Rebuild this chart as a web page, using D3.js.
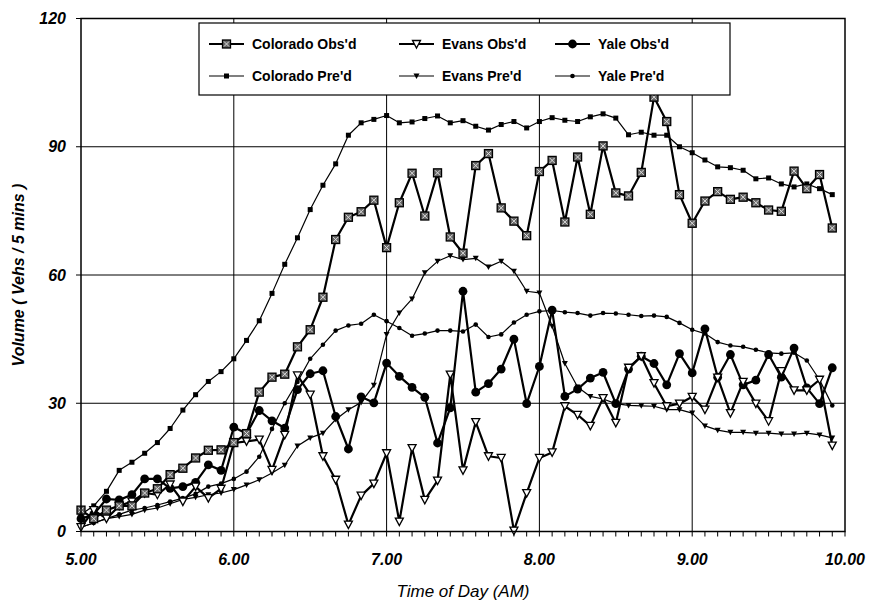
<!DOCTYPE html>
<html>
<head>
<meta charset="utf-8">
<script src="https://cdn.jsdelivr.net/npm/d3@7/dist/d3.min.js"></script>
<style>
  html, body { margin: 0; padding: 0; background: #fff; }
  svg { display: block; }
</style>
</head>
<body>
<svg id="chart" width="870" height="605"></svg>
<script>
// ---- data (5-minute intervals, 5:00 to 9:55) ----
const times = d3.range(60).map(i => 5 + i / 12);
const xTicks = [5, 6, 7, 8, 9, 10];
const xTickLabels = ["5.00", "6.00", "7.00", "8.00", "9.00", "10.00"];
const yTicks = [0, 30, 60, 90, 120];

const coloradoObs = [5, 3, 5, 6, 6, 9, 10, 13.3, 14.8, 17.2, 19, 19.1, 20.8, 22.9, 32.6, 36.1, 36.8, 43.2, 47.2, 54.8,
  68.3, 73.5, 74.8, 77.5, 66.4, 76.9, 83.8, 73.8, 83.9, 68.9, 65.1, 85.6, 88.4, 75.7, 72.6, 69.2, 84.2, 86.8, 72.4, 87.6,
  74.2, 90.2, 79.2, 78.5, 84, 101.6, 95.9, 78.8, 72.1, 77.3, 79.5, 77.7, 78.2, 76.9, 75.2, 74.9, 84.3, 80.2, 83.5, 71];
const coloradoPred = [4, 6, 9.4, 14.3, 16.2, 18.3, 20.8, 24.1, 28.4, 32, 35.1, 37.4, 40.4, 44.7, 49.3, 55.7, 62.5, 68.7, 75.3, 81,
  86, 92.7, 95.6, 96.4, 97.3, 95.6, 95.8, 96.6, 97.2, 95.6, 96.1, 94.8, 93.9, 95.2, 95.9, 94.4, 95.9, 96.8, 96.2, 95.9,
  97, 97.7, 96.7, 92.8, 93.4, 92.7, 92.7, 90, 88.6, 86.9, 85.3, 85.1, 84.5, 82.5, 82.7, 81.3, 80.6, 81.3, 80.2, 78.8];
const evansObs = [1, 5, 3, 6, 7, 9, 8.6, 11, 7, 10.5, 7.8, 10, 20.7, 21.1, 21.5, 14.4, 22.6, 36.5, 32, 17.6,
  12.1, 1.6, 8.4, 11.2, 18.3, 2.3, 19.5, 7.4, 11.9, 36.7, 14.3, 25.6, 17.6, 17.2, 0.2, 9, 17.2, 18.5, 29.3, 27.3,
  24.7, 31.2, 25.4, 38.3, 41, 34.7, 29.3, 29.9, 31.5, 28.5, 36, 27.7, 35, 29.9, 25.8, 37.5, 33, 33, 35.5, 20.1];
const evansPred = [1, 2, 3, 3.5, 4, 5, 5.5, 6.5, 7.5, 8, 8.6, 9, 9.8, 10.9, 12.1, 13.7, 15.5, 20, 21.9, 23,
  26.2, 28.5, 30.2, 34.2, 46.1, 51.1, 54.4, 60.5, 63.2, 64.5, 63.6, 63.9, 61.9, 63.2, 60.9, 56.2, 55.8, 48, 39.3, 33.8,
  31.6, 31, 29.9, 29.5, 29.4, 29.3, 28.5, 28.5, 27.7, 24.7, 23.7, 23.2, 23.2, 23, 23, 22.8, 22.8, 23, 22.6, 21.9];
const yaleObs = [3, 4, 7.6, 7.4, 8.6, 12.3, 12.3, 10.1, 10.5, 11.5, 15.6, 14.3, 24.4, 22.9, 28.3, 25.9, 24.2, 33.2, 36.9, 37.6,
  26.9, 19.3, 31.5, 30.1, 39.4, 36.3, 33.7, 31.4, 20.7, 28.9, 56.2, 32.6, 34.6, 38, 45, 29.9, 38.6, 51.8, 31.6, 33.3,
  35.9, 37.2, 29.9, 38, 41, 39.3, 34.3, 41.6, 37.1, 47.4, 36.1, 41.4, 34.3, 35.4, 41.4, 36.1, 42.9, 33.6, 29.9, 38.3];
const yalePred = [1, 2, 3, 4, 5, 5.5, 6.2, 7, 7.8, 8.8, 10.5, 11.2, 12.3, 14, 17.5, 24, 30, 35, 40.4, 43.7,
  47, 48.2, 48.6, 50.7, 49.2, 47.6, 45.8, 46.3, 47, 47, 46.8, 48.4, 45.5, 46.1, 48.9, 50.7, 51.5, 51.7, 51.3, 51.1,
  50.5, 51.1, 51, 50.7, 50.4, 50.5, 50.2, 48.8, 47.2, 46.3, 44.3, 43.5, 43.2, 42.5, 41.8, 41.6, 41.8, 40, 35.5, 29.5];

const seriesNames = ["Colorado Obs'd", "Evans Obs'd", "Yale Obs'd", "Colorado Pre'd", "Evans Pre'd", "Yale Pre'd"];

// ---- layout ----
const L = 81, R = 845, T = 18.5, B = 531.5;
const FONT = "'Liberation Sans', Arial, Helvetica, sans-serif";
const svg = d3.select("#chart");

const x = d3.scaleLinear().domain([5, 10]).range([L, R]);
const y = d3.scaleLinear().domain([0, 120]).range([B, T]);

// gridlines
svg.append("g").selectAll("line.h").data(yTicks.filter(v => v > 0 && v < 120)).join("line")
  .attr("x1", L).attr("x2", R).attr("y1", d => y(d)).attr("y2", d => y(d))
  .attr("stroke", "#000").attr("stroke-width", 1);
svg.append("g").selectAll("line.v").data(xTicks.filter(v => v > 5 && v < 10)).join("line")
  .attr("y1", T).attr("y2", B).attr("x1", d => x(d)).attr("x2", d => x(d))
  .attr("stroke", "#000").attr("stroke-width", 1);

// x axis minor ticks (every 5 minutes)
const minor = d3.range(61).map(i => 5 + i / 12);
svg.append("g").selectAll("line").data(minor).join("line")
  .attr("x1", d => x(d)).attr("x2", d => x(d)).attr("y1", B).attr("y2", B + 5)
  .attr("stroke", "#000").attr("stroke-width", 1);
// y axis small ticks
svg.append("g").selectAll("line").data(yTicks).join("line")
  .attr("x1", L - 5).attr("x2", L).attr("y1", d => y(d)).attr("y2", d => y(d))
  .attr("stroke", "#000").attr("stroke-width", 1);

// tick labels
svg.append("g").selectAll("text").data(yTicks).join("text")
  .attr("x", L - 15).attr("y", d => y(d)).attr("dy", "0.35em")
  .attr("text-anchor", "end")
  .style("font-family", FONT).style("font-size", "16px").style("font-weight", "bold").style("font-style", "italic")
  .text(d => d);
svg.append("g").selectAll("text").data(xTicks).join("text")
  .attr("x", d => x(d)).attr("y", 565)
  .attr("text-anchor", "middle")
  .style("font-family", FONT).style("font-size", "16px").style("font-weight", "bold").style("font-style", "italic")
  .text((d, i) => xTickLabels[i]);

// axis titles
svg.append("text").attr("x", (L + R) / 2).attr("y", 597).attr("text-anchor", "middle")
  .style("font-family", FONT).style("font-size", "17px").style("font-style", "italic")
  .text("Time of Day (AM)");
svg.append("text").attr("transform", `translate(24,${(T + B) / 2}) rotate(-90)`).attr("text-anchor", "middle")
  .style("font-family", FONT).style("font-size", "16px").style("font-weight", "bold").style("font-style", "italic")
  .text("Volume ( Vehs / 5 mins )");

// ---- marker painters ----
function markColoradoObs(g, s) {
  g.append("rect").attr("x", -s / 2).attr("y", -s / 2).attr("width", s).attr("height", s)
    .attr("fill", "#666").attr("stroke", "#000").attr("stroke-width", 1.3);
  g.append("path").attr("d", `M${-s / 2 + 1.5},${-s / 2 + 1.5}L${s / 2 - 1.5},${s / 2 - 1.5}M${s / 2 - 1.5},${-s / 2 + 1.5}L${-s / 2 + 1.5},${s / 2 - 1.5}`)
    .attr("stroke", "#ddd").attr("stroke-width", 1);
}
function markColoradoPred(g) {
  g.append("rect").attr("x", -2.5).attr("y", -2.5).attr("width", 5).attr("height", 5).attr("fill", "#000");
}
function markEvansObs(g) {
  g.append("path").attr("d", "M-4,-3.5L4,-3.5L0,4Z").attr("fill", "#fff").attr("stroke", "#000").attr("stroke-width", 1.3);
}
function markEvansPred(g) {
  g.append("path").attr("d", "M-3,-2.5L3,-2.5L0,3Z").attr("fill", "#000");
}
function markYaleObs(g) {
  g.append("circle").attr("r", 4.4).attr("fill", "#000");
}
function markYalePred(g) {
  g.append("circle").attr("r", 2.3).attr("fill", "#000");
}

const series = [
  { name: seriesNames[3], values: coloradoPred, width: 1.2, mark: markColoradoPred },
  { name: seriesNames[5], values: yalePred, width: 1.2, mark: markYalePred },
  { name: seriesNames[4], values: evansPred, width: 1.2, mark: markEvansPred },
  { name: seriesNames[2], values: yaleObs, width: 2.2, mark: markYaleObs },
  { name: seriesNames[1], values: evansObs, width: 2.2, mark: markEvansObs },
  { name: seriesNames[0], values: coloradoObs, width: 2.2, mark: g => markColoradoObs(g, 8) },
];

const line = d3.line().x((d, i) => x(times[i])).y(d => y(d));

series.forEach(s => {
  const g = svg.append("g");
  g.append("path").datum(s.values).attr("d", line)
    .attr("fill", "none").attr("stroke", "#000").attr("stroke-width", s.width).attr("stroke-linejoin", "round");
  g.selectAll("g.m").data(s.values).join("g")
    .attr("transform", (d, i) => `translate(${x(times[i])},${y(d)})`)
    .each(function () { s.mark(d3.select(this)); });
});

// plot frame
svg.append("rect").attr("x", L).attr("y", T).attr("width", R - L).attr("height", B - T)
  .attr("fill", "none").attr("stroke", "#000").attr("stroke-width", 1.5);

// ---- legend ----
const lg = svg.append("g");
lg.append("rect").attr("x", 199).attr("y", 23).attr("width", 531).attr("height", 72)
  .attr("fill", "#fff").attr("stroke", "#000").attr("stroke-width", 1.2);
const legendItems = [
  { name: seriesNames[0], col: 0, row: 0, w: 2.2, mark: g => markColoradoObs(g, 8) },
  { name: seriesNames[1], col: 1, row: 0, w: 2.2, mark: markEvansObs },
  { name: seriesNames[2], col: 2, row: 0, w: 2.2, mark: markYaleObs },
  { name: seriesNames[3], col: 0, row: 1, w: 1.2, mark: markColoradoPred },
  { name: seriesNames[4], col: 1, row: 1, w: 1.2, mark: markEvansPred },
  { name: seriesNames[5], col: 2, row: 1, w: 1.2, mark: markYalePred },
];
const colX = [209, 399, 555];
const rowY = [44, 76];
legendItems.forEach(it => {
  const gx = colX[it.col], gy = rowY[it.row];
  lg.append("line").attr("x1", gx).attr("x2", gx + 35).attr("y1", gy).attr("y2", gy)
    .attr("stroke", "#000").attr("stroke-width", it.w);
  const m = lg.append("g").attr("transform", `translate(${gx + 17.5},${gy})`);
  it.mark(m);
  lg.append("text").attr("x", gx + 43).attr("y", gy).attr("dy", "0.35em")
    .style("font-family", FONT).style("font-size", "14px").style("font-weight", "bold")
    .text(it.name);
});
</script>
</body>
</html>
